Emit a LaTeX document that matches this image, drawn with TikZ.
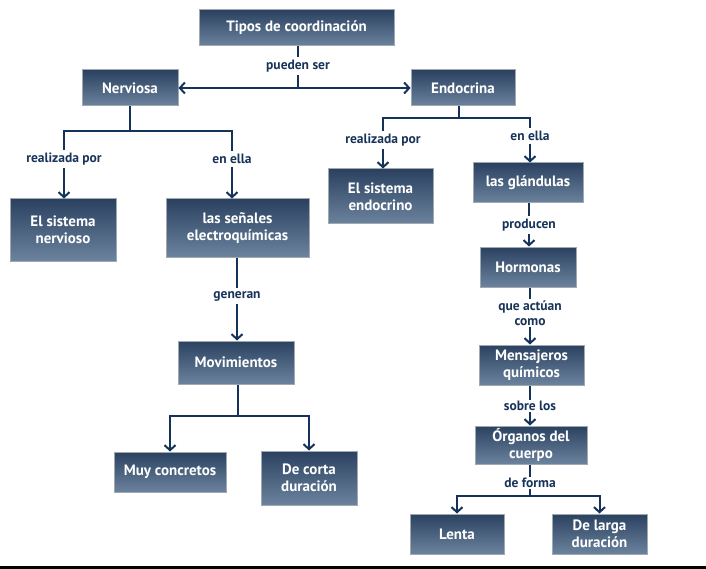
\documentclass[tikz,border=0pt]{standalone}
\usepackage{fontspec}
\setmainfont{PT Sans}
\usetikzlibrary{arrows.meta}
\definecolor{boxtop}{RGB}{42,66,96}
\definecolor{boxbot}{RGB}{108,131,158}
\definecolor{boxedge}{RGB}{160,168,178}
\definecolor{navy}{RGB}{20,50,90}
\definecolor{labcol}{RGB}{25,52,90}
\tikzset{
  box/.style={draw=boxedge, line width=1pt, top color=boxtop, bottom color=boxbot,
    text=white, font=\fontsize{15}{17}\selectfont\bfseries, align=center, inner sep=2pt},
  lab/.style={text=labcol, font=\fontsize{13.5}{15}\selectfont\bfseries, align=center, inner sep=2.5pt, fill=white},
  conn/.style={draw=navy, line width=2pt},
  arr/.style={conn, -{Straight Barb[length=5pt,width=11pt,line width=2pt]}},
  darr/.style={conn, {Straight Barb[length=5pt,width=11pt,line width=2pt]}-{Straight Barb[length=5pt,width=11pt,line width=2pt]}}
}
\begin{document}
\begin{tikzpicture}[x=1pt,y=-1pt]
\useasboundingbox (0,0) rectangle (706,569);
\fill[black] (0,566) rectangle (706,569);
% boxes
\node[box, minimum width=195pt, minimum height=36pt] (tipos) at (296.5,28) {Tipos de coordinación};
\node[box, minimum width=96pt, minimum height=36pt] (nerv) at (130,88) {Nerviosa};
\node[box, minimum width=104pt, minimum height=36pt] (endo) at (463,88) {Endocrina};
\node[box, minimum width=106pt, minimum height=62pt] (snerv) at (63,230) {El sistema\\nervioso};
\node[box, minimum width=143pt, minimum height=58pt] (senal) at (237.5,228) {las señales\\electroquímicas};
\node[box, minimum width=116pt, minimum height=43pt] (movim) at (236,362.5) {Movimientos};
\node[box, minimum width=112pt, minimum height=40pt] (muy) at (170,472) {Muy concretos};
\node[box, minimum width=96pt, minimum height=54pt] (corta) at (309,478) {De corta\\duración};
\node[box, minimum width=105pt, minimum height=55pt] (sendo) at (380.5,196.5) {El sistema\\endocrino};
\node[box, minimum width=110pt, minimum height=40pt] (glan) at (528,183) {las glándulas};
\node[box, minimum width=96pt, minimum height=40pt] (horm) at (528,267) {Hormonas};
\node[box, minimum width=105pt, minimum height=40pt] (mens) at (531.5,365) {Mensajeros\\químicos};
\node[box, minimum width=112pt, minimum height=38pt] (organ) at (531,445) {Órganos del\\cuerpo};
\node[box, minimum width=94pt, minimum height=40pt] (lenta) at (457,534) {Lenta};
\node[box, minimum width=95pt, minimum height=40pt] (larga) at (599.5,534) {De larga\\duración};
% labels
\node[lab] (lpued) at (298,66) {pueden ser};
\node[lab] (lrealL) at (64,159) {realizada por};
\node[lab] (lenL) at (232,159) {en ella};
\node[lab] (lgen) at (237,296) {generan};
\node[lab] (lrealR) at (383,140) {realizada por};
\node[lab] (lenR) at (530,136) {en ella};
\node[lab] (lprod) at (529,225) {producen};
\node[lab, inner ysep=1pt] (lque) at (530,313) {que actúan\\como};
\node[lab, inner ysep=1pt] (lsob) at (530,406) {sobre los};
\node[lab, inner ysep=1pt] (lform) at (530,483) {de forma};
% junctions
\coordinate (jt) at (298,88);
\coordinate (jn) at (130,131);
\coordinate (je) at (459,118);
\coordinate (jm) at (238,416);
\coordinate (jo) at (530,496);
% connectors
\draw[conn] (tipos.south -| lpued) -- (lpued.north);
\draw[conn] (lpued.south) -- (jt);
\draw[darr] (nerv.east) -- (endo.west);
\draw[conn] (nerv.south) -- (jn);
\draw[conn] (lrealL.north) |- (jn) -| (lenL.north);
\draw[arr] (lrealL.south) -- (lrealL.south |- snerv.north);
\draw[arr] (lenL.south) -- (lenL.south |- senal.north);
\draw[conn] (senal.south -| lgen) -- (lgen.north);
\draw[arr] (lgen.south) -- (lgen.south |- movim.north);
\draw[conn] (movim.south -| jm) -- (jm);
\draw[arr] (jm) -| (muy.north);
\draw[arr] (jm) -| (corta.north);
\draw[conn] (endo.south -| je) -- (je);
\draw[conn] (lrealR.north) |- (je) -| (lenR.north);
\draw[arr] (lrealR.south) -- (lrealR.south |- sendo.north);
\draw[arr] (lenR.south) -- (lenR.south |- glan.north);
\draw[conn] (glan.south -| lprod) -- (lprod.north);
\draw[arr] (lprod.south) -- (lprod.south |- horm.north);
\draw[conn] (horm.south -| lque) -- (lque.north);
\draw[arr] (lque.south) -- (lque.south |- mens.north);
\draw[conn] (mens.south -| lsob) -- (lsob.north);
\draw[arr] (lsob.south) -- (lsob.south |- organ.north);
\draw[conn] (organ.south -| lform) -- (lform.north);
\draw[conn] (lform.south) -- (jo);
\draw[arr] (jo) -| (lenta.north);
\draw[arr] (jo) -| (larga.north);
\end{tikzpicture}
\end{document}
